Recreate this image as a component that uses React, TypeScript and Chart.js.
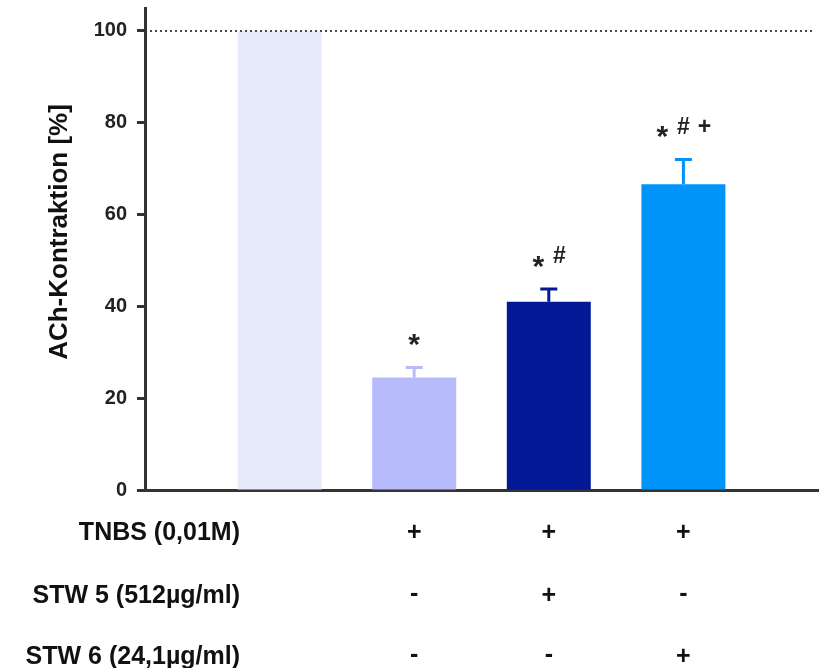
import React, { useEffect, useRef } from "react";
import { Chart, registerables } from "chart.js";

Chart.register(...registerables);

// ---- data ----
const categories = ["", "Kontrolle", "TNBS", "TNBS + STW 5", "TNBS + STW 6", ""];
const values = [null, 100, 24.5, 41.0, 66.6, null];
const errors = [null, 0, 2.2, 2.8, 5.4, null];
const barColors = ["#ffffff", "#E6EAFB", "#B8BBFB", "#031895", "#0094FB", "#ffffff"];
const significance = ["", "", "*", "* #", "* # +", ""];
const yTicks = [0, 20, 40, 60, 80, 100];
const yTitle = "ACh-Kontraktion [%]";
const rowLabels = ["TNBS (0,01M)", "STW 5 (512µg/ml)", "STW 6 (24,1µg/ml)"];
const rowTNBS = ["", "", "+", "+", "+", ""];
const rowSTW5 = ["", "", "-", "+", "-", ""];
const rowSTW6 = ["", "", "-", "-", "+", ""];
const tableRows = [rowTNBS, rowSTW5, rowSTW6];

const FONT = '"Liberation Sans", Arial, Helvetica, sans-serif';
const AXIS = "#333333";

function drawCentered(ctx: CanvasRenderingContext2D, text: string, cx: number, cy: number) {
  const m = ctx.measureText(text);
  ctx.textAlign = "center";
  ctx.textBaseline = "alphabetic";
  ctx.fillText(text, cx, cy + (m.actualBoundingBoxAscent - m.actualBoundingBoxDescent) / 2);
}

const customPlugin = {
  id: "customDecor",
  afterDatasetsDraw(chart: any) {
    const ctx: CanvasRenderingContext2D = chart.ctx;
    const y = chart.scales.y;
    const area = chart.chartArea;
    const meta = chart.getDatasetMeta(0);
    ctx.save();
    // error bars
    meta.data.forEach((el: any, i: number) => {
      const v = values[i];
      const e = errors[i];
      if (v == null || e == null || e <= 0) return;
      const top = y.getPixelForValue(v + e);
      ctx.strokeStyle = barColors[i];
      ctx.lineWidth = 3;
      ctx.lineCap = "butt";
      ctx.beginPath();
      ctx.moveTo(el.x, el.y);
      ctx.lineTo(el.x, top);
      ctx.moveTo(el.x - 8.5, top);
      ctx.lineTo(el.x + 8.5, top);
      ctx.stroke();
    });
    // dotted reference line at 100
    const y100 = y.getPixelForValue(100);
    ctx.strokeStyle = "#4a4a4a";
    ctx.lineWidth = 2;
    ctx.setLineDash([2, 3]);
    ctx.beginPath();
    ctx.moveTo(area.left + 5, y100);
    ctx.lineTo(area.right - 4, y100);
    ctx.stroke();
    ctx.setLineDash([]);
    // significance marks
    ctx.fillStyle = "#222222";
    meta.data.forEach((el: any, i: number) => {
      const s = significance[i];
      const v = values[i];
      if (!s || v == null) return;
      const parts = s.split(" ");
      const top = y.getPixelForValue(v + (errors[i] || 0));
      const spacing = 21;
      const start = el.x - ((parts.length - 1) * spacing) / 2;
      parts.forEach((p: string, k: number) => {
        const cx = start + k * spacing;
        if (p === "*") {
          ctx.font = `bold 30px ${FONT}`;
          drawCentered(ctx, p, cx, top - 27);
        } else {
          ctx.font = `bold 23px ${FONT}`;
          drawCentered(ctx, p, cx, top - 34);
        }
      });
    });
    ctx.restore();
  },
  afterDraw(chart: any) {
    const ctx: CanvasRenderingContext2D = chart.ctx;
    const x = chart.scales.x;
    ctx.save();
    ctx.fillStyle = "#111111";
    // y-axis title
    ctx.font = `bold 26px ${FONT}`;
    ctx.translate(67, 232);
    ctx.rotate(-Math.PI / 2);
    ctx.textAlign = "center";
    ctx.textBaseline = "alphabetic";
    ctx.fillText(yTitle, 0, 0);
    ctx.restore();

    ctx.save();
    ctx.fillStyle = "#111111";
    const rowY = [531, 594, 655];
    tableRows.forEach((row, r) => {
      ctx.font = `bold 25px ${FONT}`;
      ctx.textAlign = "right";
      ctx.textBaseline = "alphabetic";
      ctx.fillText(rowLabels[r], 240, rowY[r] + 9);
      row.forEach((sym, i) => {
        if (!sym) return;
        ctx.font = `bold 25px ${FONT}`;
        drawCentered(ctx, sym, x.getPixelForValue(i), rowY[r]);
      });
    });
    ctx.restore();
  },
};

export default function App() {
  const ref = useRef<HTMLCanvasElement | null>(null);
  useEffect(() => {
    document.body.style.margin = "0";
    const canvas = ref.current;
    if (!canvas) return;
    const chart = new Chart(canvas, {
      type: "bar",
      data: {
        labels: categories,
        datasets: [
          {
            data: values as any,
            backgroundColor: barColors,
            borderWidth: 0,
            categoryPercentage: 1,
            barPercentage: 0.624,
          },
        ],
      },
      options: {
        animation: false,
        responsive: false,
        maintainAspectRatio: false,
        layout: { padding: { top: 8, right: 3, left: 0, bottom: 0 } },
        plugins: { legend: { display: false }, tooltip: { enabled: false }, title: { display: false } },
        scales: {
          x: {
            type: "category",
            offset: false,
            grid: { display: false },
            border: { display: true, color: AXIS, width: 3 },
            ticks: { display: false },
            afterFit: (s: any) => {
              s.height = 178;
              s.paddingLeft = 0;
              s.paddingRight = 0;
            },
          },
          y: {
            min: 0,
            max: 105,
            afterBuildTicks: (axis: any) => {
              axis.ticks = yTicks.map((v) => ({ value: v }));
            },
            grid: {
              drawOnChartArea: false,
              drawTicks: true,
              tickLength: 8,
              tickWidth: 3,
              tickColor: AXIS,
            },
            border: { display: true, color: AXIS, width: 3 },
            ticks: {
              color: "#222222",
              padding: 10,
              font: { family: FONT, size: 20, weight: "bold" },
            },
            afterFit: (s: any) => {
              s.width = 145;
              s.paddingTop = 0;
              s.paddingBottom = 0;
            },
          },
        },
      },
      plugins: [customPlugin],
    } as any);
    return () => chart.destroy();
  }, []);
  return <canvas ref={ref} width={821} height={668} style={{ display: "block" }} />;
}
